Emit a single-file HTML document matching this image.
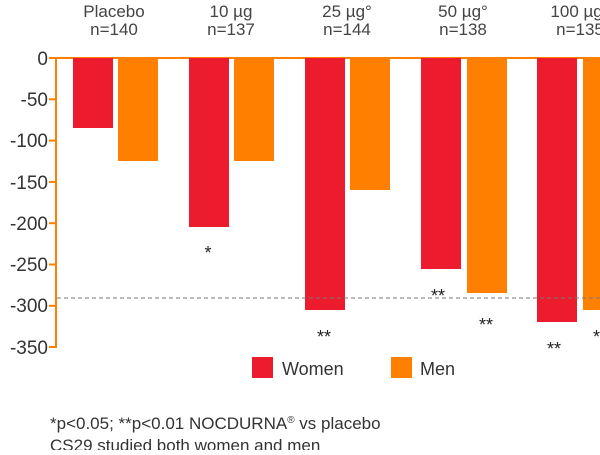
<!DOCTYPE html>
<html><head><meta charset="utf-8"><style>
body{margin:0;width:600px;height:450px;overflow:hidden;background:#fff;font-family:"Liberation Sans",sans-serif}
</style></head><body>
<svg width="600" height="450" xmlns="http://www.w3.org/2000/svg" font-family="Liberation Sans, sans-serif">
<g fill="#444" font-size="17" text-anchor="middle">
<text x="114" y="17">Placebo</text><text x="114" y="35">n=140</text>
<text x="231" y="17">10 µg</text><text x="231" y="35">n=137</text>
<text x="347" y="17">25 µg°</text><text x="347" y="35">n=144</text>
<text x="463" y="17">50 µg°</text><text x="463" y="35">n=138</text>
<text x="580" y="17">100 µg°</text><text x="580" y="35">n=135</text>
</g>
<g fill="#333" font-size="19" text-anchor="end">
<text x="48" y="65">0</text><text x="48" y="106">-50</text><text x="48" y="147">-100</text>
<text x="48" y="189">-150</text><text x="48" y="230">-200</text><text x="48" y="271">-250</text>
<text x="48" y="312">-300</text><text x="48" y="354">-350</text>
</g>
<g stroke="#ff8000" stroke-width="2">
<line x1="56" y1="57" x2="56" y2="348"/><line x1="49" y1="58" x2="600" y2="58"/>
<line x1="49" y1="99.3" x2="56" y2="99.3"/><line x1="49" y1="140.6" x2="56" y2="140.6"/>
<line x1="49" y1="181.9" x2="56" y2="181.9"/><line x1="49" y1="223.2" x2="56" y2="223.2"/>
<line x1="49" y1="264.5" x2="56" y2="264.5"/><line x1="49" y1="305.8" x2="56" y2="305.8"/>
<line x1="49" y1="347" x2="56" y2="347"/>
</g>
<g fill="#ec1b2e">
<rect x="73" y="58" width="40" height="70"/><rect x="189" y="58" width="40" height="169"/>
<rect x="305" y="58" width="40" height="252"/><rect x="421" y="58" width="40" height="211"/>
<rect x="537" y="58" width="40" height="264"/>
</g>
<g fill="#ff8000">
<rect x="118" y="58" width="40" height="103"/><rect x="234" y="58" width="40" height="103"/>
<rect x="350" y="58" width="40" height="132"/><rect x="467" y="58" width="40" height="235"/>
<rect x="583" y="58" width="40" height="252"/>
</g>
<line x1="57" y1="298" x2="600" y2="298" stroke="#777" stroke-width="1" stroke-dasharray="4,3"/>
<g fill="#222" font-size="18" text-anchor="middle">
<text x="208" y="259">*</text><text x="324" y="343">**</text><text x="438" y="302">**</text>
<text x="486" y="331">**</text><text x="554" y="355">**</text><text x="600" y="343">**</text>
</g>
<rect x="252" y="357" width="21" height="21" fill="#ec1b2e"/>
<text x="282" y="375" font-size="18" fill="#333">Women</text>
<rect x="391" y="357" width="21" height="21" fill="#ff8000"/>
<text x="420" y="375" font-size="18" fill="#333">Men</text>
<text x="50" y="429" font-size="17" fill="#333">*p&lt;0.05; **p&lt;0.01 NOCDURNA<tspan font-size="10" dy="-6">®</tspan><tspan dy="6"> vs placebo</tspan></text>
<text x="50" y="451" font-size="17" fill="#333">CS29 studied both women and men</text>
</svg>
</body></html>
